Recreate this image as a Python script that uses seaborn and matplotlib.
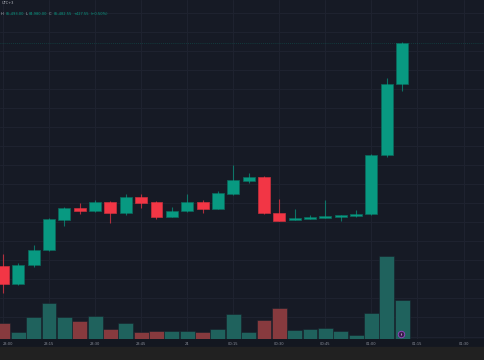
import numpy as np
import pandas as pd
import matplotlib
matplotlib.use("Agg")
import matplotlib.pyplot as plt
from matplotlib.patches import Rectangle
import seaborn as sns

# 5-minute candles, 23:00 -> 01:10 (UTC+3)
times = ["23:00", "23:05", "23:10", "23:15", "23:20", "23:25", "23:30", "23:35", "23:40",
         "23:45", "23:50", "23:55", "00:00", "00:05", "00:10", "00:15", "00:20", "00:25",
         "00:30", "00:35", "00:40", "00:45", "00:50", "00:55", "01:00", "01:05", "01:10"]
opens = [83141, 82952, 83152, 83309, 83624, 83750, 83719, 83813, 83698, 83866, 83813, 83656,
         83719, 83813, 83740, 83897, 84034, 84075, 83698, 83624, 83635, 83645, 83656, 83666,
         83687, 84307, 85055]
highs = [83267, 83172, 83361, 83645, 83761, 83803, 83834, 83818, 83897, 83897, 83820, 83761,
         83897, 83834, 83929, 84202, 84117, 84086, 83845, 83740, 83677, 83834, 83680, 83729,
         84317, 85115, 85493]
lows = [82857, 82945, 83130, 83298, 83561, 83687, 83712, 83593, 83677, 83750, 83635, 83650,
        83712, 83698, 83735, 83890, 84013, 83687, 83610, 83620, 83630, 83640, 83614, 83660,
        83680, 84286, 84980]
closes = [82952, 83152, 83309, 83635, 83750, 83719, 83813, 83698, 83866, 83803, 83656, 83719,
          83813, 83740, 83907, 84044, 84075, 83698, 83614, 83645, 83656, 83666, 83677, 83687,
          84307, 85055, 85482.55]
volumes = [48, 21, 66, 108, 66, 54, 69, 30, 48, 21, 24, 24, 24, 21, 30, 75, 21, 57, 93, 27,
           30, 33, 24, 12, 78, 249, 117]

tick_labels = ["23:00", "23:15", "23:30", "23:45", "24", "00:15", "00:30", "00:45",
               "01:00", "01:15", "01:30"]

W, H = 485, 360
BG = "#161a25"
UP, DOWN = "#089981", "#f23645"
VOL_UP, VOL_DOWN = "#1f625d", "#873a3e"
GRID = "#1f2330"
TEXT = "#8b8f9a"

sns.set_theme(style="dark", rc={"axes.facecolor": BG, "figure.facecolor": "#131720"})
plt.rcParams["font.family"] = ["DejaVu Sans"]

df = pd.DataFrame({"time": times, "open": opens, "high": highs, "low": lows,
                   "close": closes, "volume": volumes})
df["idx"] = np.arange(len(df))
df["dir"] = np.where(df["close"] >= df["open"], "up", "down")

fig = plt.figure(figsize=(W / 100, H / 100), dpi=100)
# bottom grey strip under the time axis
fig.patches.append(Rectangle((0, 0), 1, 13 / H, transform=fig.transFigure,
                             color="#212121", zorder=0))

ax = fig.add_axes([0, 21 / H, 1, 339 / H])
ax.set_facecolor(BG)

# grid
ax.set_yticks(np.arange(82400, 86000, 200))
ax.set_xticks(np.arange(0, 33, 3))
ax.set_xticklabels(tick_labels)
ax.grid(True, color=GRID, linewidth=0.7)
ax.tick_params(axis="y", left=False, labelleft=False)
ax.tick_params(axis="x", length=0, labelsize=2.6, labelcolor=TEXT, pad=2.4)
ax.get_xticklabels()[0].set_ha("left")  # first label sits at the left edge
for s in ax.spines.values():
    s.set_visible(False)

# volume on its own scale, underneath the candles
axv = ax.twinx()
sns.barplot(data=df, x="idx", y="volume", hue="dir",
            palette={"up": VOL_UP, "down": VOL_DOWN}, native_scale=True,
            width=0.97, saturation=1, dodge=False, legend=False,
            edgecolor="#18202a", linewidth=0.4, ax=axv)
axv.set_ylim(0, 1017)
axv.set_yticks([])
axv.set_ylabel("")
axv.set_xlabel("")
axv.grid(False)
for s in axv.spines.values():
    s.set_visible(False)

# candles
axc = ax.twinx()
axc.patch.set_visible(False)
colors = np.where(df["dir"] == "up", UP, DOWN)
edges = np.where(df["dir"] == "up", "#0b6a5c", "#c9303d")
axc.vlines(df["idx"], df["low"], df["high"], colors=colors, linewidth=0.8, alpha=0.7)
body_low = np.minimum(df["open"], df["close"])
body_h = np.maximum(np.abs(df["close"] - df["open"]), 12)
axc.bar(df["idx"], body_h, bottom=body_low, width=0.78, color=colors,
        edgecolor=edges, linewidth=0.5)
axc.axhline(closes[-1], color=UP, linewidth=0.6, linestyle=(0, (1, 1.5)), alpha=0.35)
axc.set_ylim(82374, 85934)
axc.set_yticks([])
axc.grid(False)
for s in axc.spines.values():
    s.set_visible(False)

# event marker on the volume pane
axv.scatter([25.93], [16], s=22, color="#3b1d4d", edgecolor="#9b45c4", linewidth=0.6, zorder=5)
axv.scatter([25.93], [16], s=2, color="#d9c6e6", marker="|", linewidth=0.5, zorder=6)

ax.set_xlim(-0.195, 31.4)
ax.set_ylim(82374, 85934)

# header legend
fig.text(2 / W, 1 - 2.8 / H, "UTC+3", color="#b5b8c0", fontsize=2.6, va="center", ha="left")
fig.canvas.draw()
renderer = fig.canvas.get_renderer()
x = 1.0
segments = [("H", "#b5b8c0"), ("85,493.00", UP), ("L", "#b5b8c0"), ("84,980.00", UP),
            ("C", "#b5b8c0"), ("85,482.55", UP), ("+427.55", UP), ("(+0.50%)", UP)]
for txt, col in segments:
    t = fig.text(x / W, 1 - 14 / H, txt, color=col, fontsize=2.6, va="center", ha="left")
    x += t.get_window_extent(renderer).width + 1.6

fig.savefig("out.png", dpi=100, facecolor=fig.get_facecolor())
